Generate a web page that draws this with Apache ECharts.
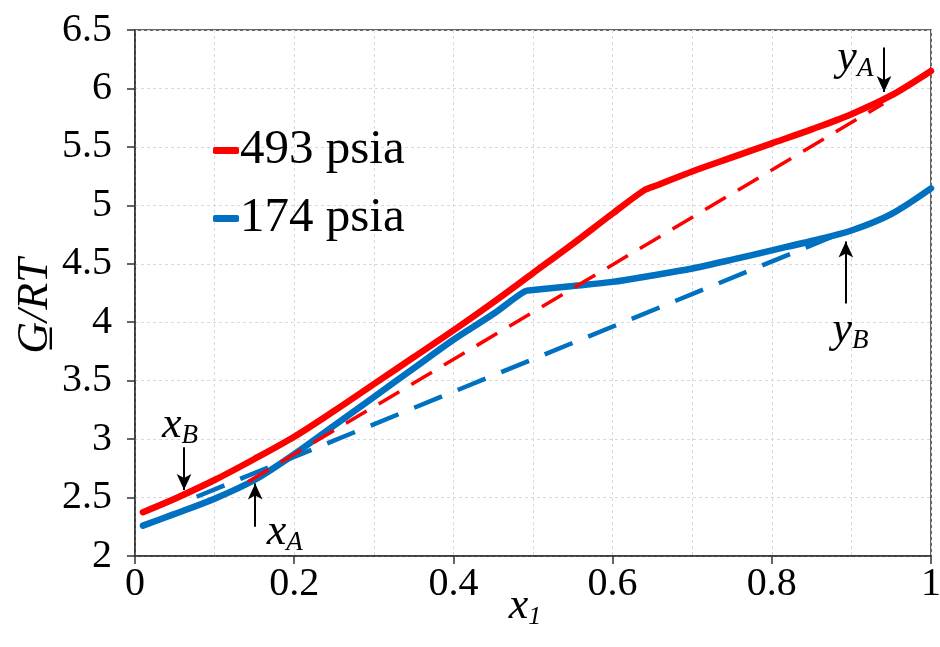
<!DOCTYPE html>
<html>
<head>
<meta charset="utf-8">
<script src="https://cdn.jsdelivr.net/npm/echarts@6/dist/echarts.min.js"></script>
<style>html,body{margin:0;padding:0;background:#fff}#c{width:940px;height:647px}</style>
</head>
<body>
<div id="c"></div>
<script>
// ---- data ----
const red493 = [[0.01,2.375],[0.05,2.49],[0.10,2.65],[0.15,2.83],[0.20,3.02],[0.25,3.24],[0.30,3.47],[0.35,3.70],[0.40,3.93],[0.45,4.17],[0.50,4.42],[0.55,4.67],[0.60,4.93],[0.64,5.13],[0.655,5.17],[0.70,5.29],[0.75,5.41],[0.80,5.53],[0.85,5.65],[0.90,5.78],[0.95,5.94],[1.00,6.15]];
const blue174 = [[0.01,2.26],[0.05,2.36],[0.10,2.49],[0.15,2.65],[0.20,2.87],[0.25,3.115],[0.30,3.36],[0.35,3.605],[0.40,3.85],[0.45,4.07],[0.49,4.265],[0.50,4.275],[0.55,4.31],[0.60,4.345],[0.65,4.40],[0.70,4.46],[0.75,4.535],[0.80,4.615],[0.85,4.695],[0.90,4.785],[0.95,4.925],[1.00,5.145]];
const redTangent = [[0.142,2.636],[0.94,5.87]];
const blueTangent = [[0.0775,2.507],[0.89,4.77]];
const seriesNames = ['493 psia','174 psia'];
const xTicks = [0,0.2,0.4,0.6,0.8,1];
const yTicks = [2,2.5,3,3.5,4,4.5,5,5.5,6,6.5];
// annotation arrows: [x, yFrom, yTo]
const arrows = [[0.0616,2.93,2.565],[0.151,2.25,2.62],[0.941,6.35,5.97],[0.893,4.16,4.69]];
// annotation labels: [x, y, main, sub]
const annLabels = [[0.0565,3.12,'x','B'],[0.188,2.205,'x','A'],[0.905,6.26,'y','A'],[0.899,3.93,'y','B']];

const FONT = '"Liberation Serif","Times New Roman",serif';
const RED = '#FF0000', BLUE = '#0070C0';
const chart = echarts.init(document.getElementById('c'), null, {renderer:'canvas'});
const gridDash = {color:'#d9d9d9', type:[3,3], width:1};

chart.setOption({
  animation:false,
  backgroundColor:'#fff',
  grid:{left:135, right:9, top:30, bottom:91, show:true, borderColor:'#333', borderWidth:1.5, backgroundColor:'transparent', outerBoundsMode:'none', containLabel:false},
  legend:{
    data:seriesNames, orient:'vertical', left:208, top:121, itemWidth:26, itemHeight:7, itemGap:19,
    icon:'roundRect', textStyle:{fontFamily:FONT, fontSize:49, color:'#000', lineHeight:48, padding:[0,0,0,-4]}
  },
  xAxis:{
    type:'value', min:0, max:1, interval:0.2,
    name:'{x|x}{s|1}', nameLocation:'middle', nameGap:26, nameMoveOverlap:false,
    nameTextStyle:{padding:[0,16,0,0], rich:{x:{fontFamily:FONT, fontStyle:'italic', fontSize:44, color:'#000'}, s:{fontFamily:FONT, fontStyle:'italic', fontSize:26, color:'#000', padding:[22,0,0,0]}}},
    axisLine:{show:true, onZero:false, lineStyle:{color:'#333', width:1.5}},
    axisTick:{show:true, inside:false, length:8, lineStyle:{color:'#333', width:1.5}},
    axisLabel:{fontFamily:FONT, fontSize:40, color:'#000', margin:8, formatter:v=> xTicks.includes(+v.toFixed(2)) ? String(+v.toFixed(2)) : ''},
    splitLine:{show:true, lineStyle:gridDash},
    minorTick:{show:false, splitNumber:2},
    minorSplitLine:{show:true, lineStyle:gridDash}
  },
  yAxis:{
    type:'value', min:2, max:6.5, interval:0.5,
    name:'G\u0332/RT', nameLocation:'middle', nameGap:78, nameRotate:90, nameMoveOverlap:false,
    nameTextStyle:{fontFamily:FONT, fontStyle:'italic', fontSize:44, color:'#000', padding:[0,26,0,0]},
    axisLine:{show:true, onZero:false, lineStyle:{color:'#333', width:1.5}},
    axisTick:{show:true, inside:false, length:8, lineStyle:{color:'#333', width:1.5}},
    axisLabel:{fontFamily:FONT, fontSize:40, color:'#000', margin:23, formatter:v=> yTicks.includes(+v) ? String(+v) : ''},
    splitLine:{show:true, lineStyle:gridDash}
  },
  series:[
    {name:'blueTangent', type:'line', data:blueTangent, showSymbol:false, symbol:'none', lineStyle:{color:BLUE, width:4.5, type:[30,17]}, z:2},
    {name:'174 psia', type:'line', data:blue174, showSymbol:false, symbol:'none', smooth:0.3, color:BLUE, lineStyle:{color:BLUE, width:6.5, cap:'round'}, z:3},
    {name:'493 psia', type:'line', data:red493, showSymbol:false, symbol:'none', smooth:0.3, color:RED, lineStyle:{color:RED, width:6.5, cap:'round'}, z:4},
    {name:'redTangent', type:'line', data:redTangent, showSymbol:false, symbol:'none', lineStyle:{color:RED, width:3.5, type:[24,14]}, z:5},
    {name:'arrows', type:'line', data:[], symbol:'none', z:6,
      markLine:{silent:true, symbol:['none','arrow'], symbolSize:[11,16], label:{show:false},
        lineStyle:{color:'#000', width:2, type:'solid'},
        data:arrows.map(a=>[{coord:[a[0],a[1]]},{coord:[a[0],a[2]]}])}
    },
    {name:'labels', type:'scatter', symbolSize:1, z:7, silent:true, itemStyle:{color:'rgba(0,0,0,0)'},
      data:annLabels.map(a=>({value:[a[0],a[1]], main:a[2], sub:a[3]})),
      label:{show:true, position:'inside', color:'#000', opacity:1, textBorderWidth:0,
        formatter:p=>'{m|'+p.data.main+'}{s|'+p.data.sub+'}',
        rich:{m:{fontFamily:FONT, fontStyle:'italic', fontSize:44, color:'#000', textBorderWidth:0}, s:{fontFamily:FONT, fontStyle:'italic', fontSize:27, color:'#000', textBorderWidth:0, padding:[22,0,0,0]}}}
    }
  ]
});
</script>
</body>
</html>
